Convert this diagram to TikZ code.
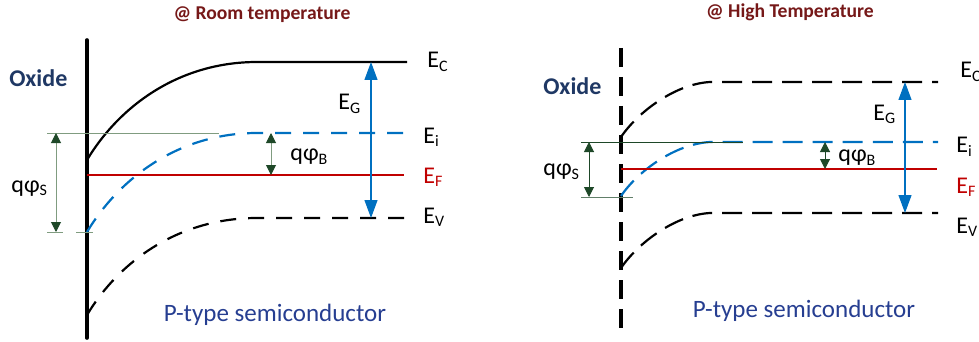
\documentclass[tikz,border=0pt]{standalone}
\usepackage{fontspec}
\setmainfont{Carlito}
\usepackage{xcolor}
\definecolor{titlered}{RGB}{118,24,24}
\definecolor{oxideblue}{RGB}{31,56,100}
\definecolor{semiblue}{RGB}{38,62,145}
\definecolor{bandblue}{RGB}{0,112,192}
\definecolor{fermired}{RGB}{192,0,0}
\definecolor{dimgreen}{RGB}{30,72,40}
\definecolor{dimgray}{RGB}{128,156,128}
\usepackage{tikz}
\usetikzlibrary{arrows.meta}
\tikzset{
  paneltitle/.style={
    anchor=base, inner sep=0pt, text=titlered,
    font=\bfseries\fontsize{9.8}{11}\selectfont},
  oxlabel/.style={
    anchor=base west, inner sep=0pt, text=oxideblue,
    font=\bfseries\fontsize{12}{14}\selectfont},
  lvl/.style={
    anchor=base west, inner sep=0pt,
    font=\fontsize{12}{14}\selectfont},
  semilabel/.style={
    anchor=base, inner sep=0pt, text=semiblue,
    font=\fontsize{12.5}{15}\selectfont},
  wall/.style={line width=1.8pt, line cap=round},
  hotwall/.style={line width=2pt, dash pattern=on 9.5pt off 5pt},
  band/.style={line width=1.1pt},
  coldband/.style={line width=1.1pt, dash pattern=on 8pt off 6pt},
  hotband/.style={line width=1.1pt, dash pattern=on 10pt off 5pt},
  fermi/.style={line width=1pt, fermired},
  gaparr/.style={{Triangle[length=9pt,width=6.5pt]}-{Triangle[length=9pt,width=6.5pt]},
    line width=0.6pt, bandblue},
  dimarr/.style={{Triangle[length=5pt,width=5pt,color=dimgreen]}-{Triangle[length=5pt,width=5pt,color=dimgreen]},
    line width=0.5pt},
  dimline/.style={line width=0.5pt},
}

\begin{document}
\begin{tikzpicture}[x=0.5pt, y=-0.5pt]
  \useasboundingbox (0,0) rectangle (979,342);

  % ---- room temperature ----
  \node[paneltitle] (titleL) at (262,20) {@ Room temperature};
  \node[oxlabel] (oxL) at (9,87) {Oxide};
  \draw[wall] (87,40) -- (87,338);
  \draw[band] (87,160) .. controls (120,105) and (180,62) .. (257,62) -- (407,62);
  \draw[coldband, bandblue] (87,232) .. controls (120,177) and (180,133) .. (257,133) -- (407,133);
  \draw[coldband] (87,315) .. controls (120,260) and (180,218) .. (257,218) -- (407,218);
  \draw[fermi] (87,175) -- (404,175);

  \coordinate (cL) at (371,62);
  \coordinate (vL) at (371,218);
  \coordinate (sTopL) at (56,133);
  \coordinate (sBotL) at (56,232);
  \coordinate (bTopL) at (271,133);
  \coordinate (bBotL) at (271,175);
  \draw[dimline, dimgray] (47,133) -- (219,133);
  \draw[dimline, dimgray] (47,232) -- (63,232);
  \draw[dimline, dimgray] (76,232) -- (93,232);
  \draw[dimarr, dimgray] (sTopL) -- (sBotL);
  \draw[dimarr, dimgray] (bTopL) -- (bBotL);
  \draw[gaparr] (cL) -- (vL);

  \node[lvl] (ecL) at (427,68) {E\textsubscript{C}};
  \node[lvl] (egL) at (338,110) {E\textsubscript{G}};
  \node[lvl] (eiL) at (423,143) {E\textsubscript{i}};
  \node[lvl, text=fermired] (efL) at (423,183) {E\textsubscript{F}};
  \node[lvl] (evL) at (423,223) {E\textsubscript{V}};
  \node[lvl] (phibL) at (290,161) {qφ\textsubscript{B}};
  \node[lvl] (phisL) at (11,192) {qφ\textsubscript{S}};
  \node[semilabel] (semiL) at (275,321) {P-type semiconductor};

  % ---- high temperature ----
  \node[paneltitle] (titleR) at (790,18) {@ High Temperature};
  \node[oxlabel] (oxR) at (543,95) {Oxide};
  \draw[hotwall] (621,48) -- (621,328);
  \draw[hotband] (621,137) .. controls (638,112) and (675,84) .. (710,82) -- (938,82);
  \draw[hotband, bandblue] (621,196) .. controls (638,171) and (675,144) .. (710,142) -- (938,142);
  \draw[hotband] (621,268) .. controls (638,243) and (675,215) .. (710,213) -- (938,213);
  \draw[fermi] (621,169) -- (937,169);

  \coordinate (cR) at (905,82);
  \coordinate (vR) at (905,213);
  \coordinate (sTopR) at (589,142);
  \coordinate (sBotR) at (589,197);
  \coordinate (bTopR) at (825,142);
  \coordinate (bBotR) at (825,169);
  \draw[dimline, dimgreen] (581,142) -- (743,142);
  \draw[dimline, dimgreen!70] (581,197) -- (633,197);
  \draw[dimarr, dimgreen] (sTopR) -- (sBotR);
  \draw[dimarr, dimgreen] (bTopR) -- (bBotR);
  \draw[gaparr] (cR) -- (vR);

  \node[lvl] (ecR) at (960,78) {E\textsubscript{C}};
  \node[lvl] (egR) at (873,120) {E\textsubscript{G}};
  \node[lvl] (eiR) at (956,153) {E\textsubscript{i}};
  \node[lvl, text=fermired] (efR) at (956,193) {E\textsubscript{F}};
  \node[lvl] (evR) at (956,233) {E\textsubscript{V}};
  \node[lvl] (phibR) at (838,162) {qφ\textsubscript{B}};
  \node[lvl] (phisR) at (543,176) {qφ\textsubscript{S}};
  \node[semilabel] (semiR) at (804,317) {P-type semiconductor};
\end{tikzpicture}
\end{document}
